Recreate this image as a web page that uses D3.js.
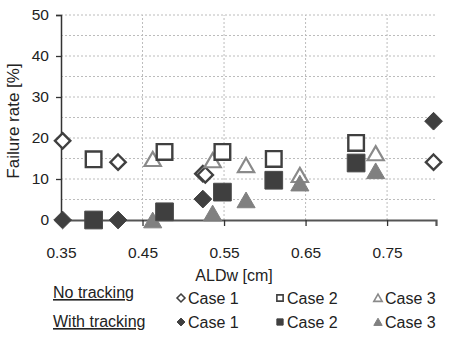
<!DOCTYPE html>
<html><head><meta charset="utf-8">
<script src="https://cdn.jsdelivr.net/npm/d3@7"></script>
<style>body{margin:0;background:#fff}svg{display:block;font-family:"Liberation Sans",Arial,sans-serif}</style>
</head><body><svg id="c" width="450" height="338"></svg>
<script>
// Data
const ntCase1X = [0.352, 0.42, 0.524, 0.527, 0.807];
const ntCase1Y = [19.3, 14.1, 11.3, 11.0, 14.1];
const wtCase1X = [0.352, 0.42, 0.524, 0.807];
const wtCase1Y = [0, 0, 5.1, 24.1];
const ntCase2X = [0.39, 0.477, 0.548, 0.611, 0.712];
const ntCase2Y = [14.8, 16.6, 16.6, 14.9, 18.8];
const wtCase2X = [0.39, 0.477, 0.548, 0.611, 0.712];
const wtCase2Y = [0, 2.0, 6.8, 9.7, 13.9];
const ntCase3X = [0.4625, 0.536, 0.577, 0.643, 0.736];
const ntCase3Y = [14.9, 14.6, 13.4, 11.0, 16.3];
const wtCase3X = [0.4625, 0.536, 0.577, 0.643, 0.736];
const wtCase3Y = [0, 1.7, 4.9, 9.0, 12.0];
const xTicks = [0.35, 0.45, 0.55, 0.65, 0.75];
const yTicks = [0, 10, 20, 30, 40, 50];
const yGrid = [5, 10, 15, 20, 25, 30, 35, 40, 45, 50];
const caseLabels = ["Case 1", "Case 2", "Case 3"];
const groupLabels = ["No tracking", "With tracking"];

const svg = d3.select("#c");
const x = d3.scaleLinear().domain([0.35, 0.81]).range([61, 436]);
const y = d3.scaleLinear().domain([0, 50]).range([220, 15]);

const dark = "#404040", tri = "#8a8a8a", triFill = "#808080";
const FF = "Liberation Sans, Arial, sans-serif";

// gridlines
svg.append("g").selectAll("line").data(yGrid).join("line")
  .attr("x1", x(0.35)).attr("x2", x(0.81))
  .attr("y1", d => y(d)).attr("y2", d => y(d))
  .attr("stroke", "#bcbcbc").attr("stroke-dasharray", "2,2").attr("stroke-width", 1);
svg.append("g").selectAll("line").data(xTicks.slice(1)).join("line")
  .attr("x1", d => x(d)).attr("x2", d => x(d))
  .attr("y1", y(0)).attr("y2", y(50))
  .attr("stroke", "#bcbcbc").attr("stroke-dasharray", "2,2").attr("stroke-width", 1);

// axes
const yAxis = d3.axisLeft(y).tickValues(yTicks).tickSize(5).tickPadding(7).tickFormat(d3.format("d"));
const gy = svg.append("g").attr("transform", `translate(${x(0.35)},0)`).call(yAxis);
gy.select(".domain").attr("stroke", "#333").attr("stroke-width", 1.5);
gy.selectAll(".tick line").attr("stroke", "#333").attr("stroke-width", 1.3);
gy.selectAll(".tick text").attr("font-size", 15.5).attr("fill", "#222").attr("font-family", FF);

const xAxis = d3.axisBottom(x).tickValues(xTicks).tickSize(6).tickPadding(21).tickFormat(d3.format(".2f"));
const gx = svg.append("g").attr("transform", `translate(0,${y(0)})`).call(xAxis);
gx.select(".domain").attr("stroke", "#555").attr("stroke-width", 2.2);
gx.selectAll(".tick line").attr("stroke", "#333").attr("stroke-width", 1.3);
gx.selectAll(".tick").filter(d => d === 0.35).select("line").remove();
gx.selectAll(".tick text").attr("font-size", 15.5).attr("fill", "#222").attr("font-family", FF);

// axis titles
svg.append("text").attr("x", 234).attr("y", 281).attr("text-anchor", "middle")
  .attr("font-size", 16).attr("fill", "#222").text("ALDw [cm]");
svg.append("text").attr("transform", "translate(19,121) rotate(-90)").attr("text-anchor", "middle")
  .attr("font-size", 17).attr("fill", "#222").text("Failure rate [%]");

// markers
const sym = {
  diamond: d3.symbol().type(d3.symbolDiamond2),
  square: d3.symbol().type(d3.symbolSquare2),
  triangle: d3.symbol().type(d3.symbolTriangle2)
};
function series(xs, ys, type, size, fill, stroke, sw, dy) {
  svg.append("g").selectAll("path").data(xs.map((v, i) => [v, ys[i]])).join("path")
    .attr("d", sym[type].size(size)())
    .attr("transform", d => `translate(${x(d[0])},${y(d[1]) + (dy || 0)})`)
    .attr("fill", fill).attr("stroke", stroke).attr("stroke-width", sw);
}
series(ntCase1X, ntCase1Y, "diamond", 150, "#fff", dark, 2.4);
series(wtCase1X, wtCase1Y, "diamond", 200, dark, dark, 1);
series(ntCase3X, ntCase3Y, "triangle", 190, "#fff", tri, 2.2, 2.4);
series(wtCase3X, wtCase3Y, "triangle", 235, triFill, triFill, 1, 2.6);
series(ntCase2X, ntCase2Y, "square", 310, "#fff", dark, 2.4);
series(wtCase2X, wtCase2Y, "square", 400, "#3f3f3f", "#4a4a4a", 1);

// legend
const lg = svg.append("g").attr("font-size", 16).attr("fill", "#222");
const rowY = [298, 327];
groupLabels.forEach((t, i) => {
  lg.append("text").attr("x", 53).attr("y", rowY[i]).attr("text-decoration", "underline").text(t);
});
const colX = [181, 280, 378];
const types = ["diamond", "square", "triangle"];
const itemRowY = [304, 328];
for (let r = 0; r < 2; r++) {
  for (let c = 0; c < 3; c++) {
    const isTri = c === 2;
    const col = isTri ? (r === 0 ? tri : triFill) : dark;
    lg.append("path").attr("d", sym[types[c]].size(types[c] === "diamond" ? 40 : 50)())
      .attr("transform", `translate(${colX[c]},${itemRowY[r] - 6 + (isTri ? 1 : 0)})`)
      .attr("fill", r === 0 ? "#fff" : col).attr("stroke", col).attr("stroke-width", r === 0 ? 1.6 : 1);
    lg.append("text").attr("x", colX[c] + 7).attr("y", itemRowY[r]).text(caseLabels[c]);
  }
}
</script></body></html>
